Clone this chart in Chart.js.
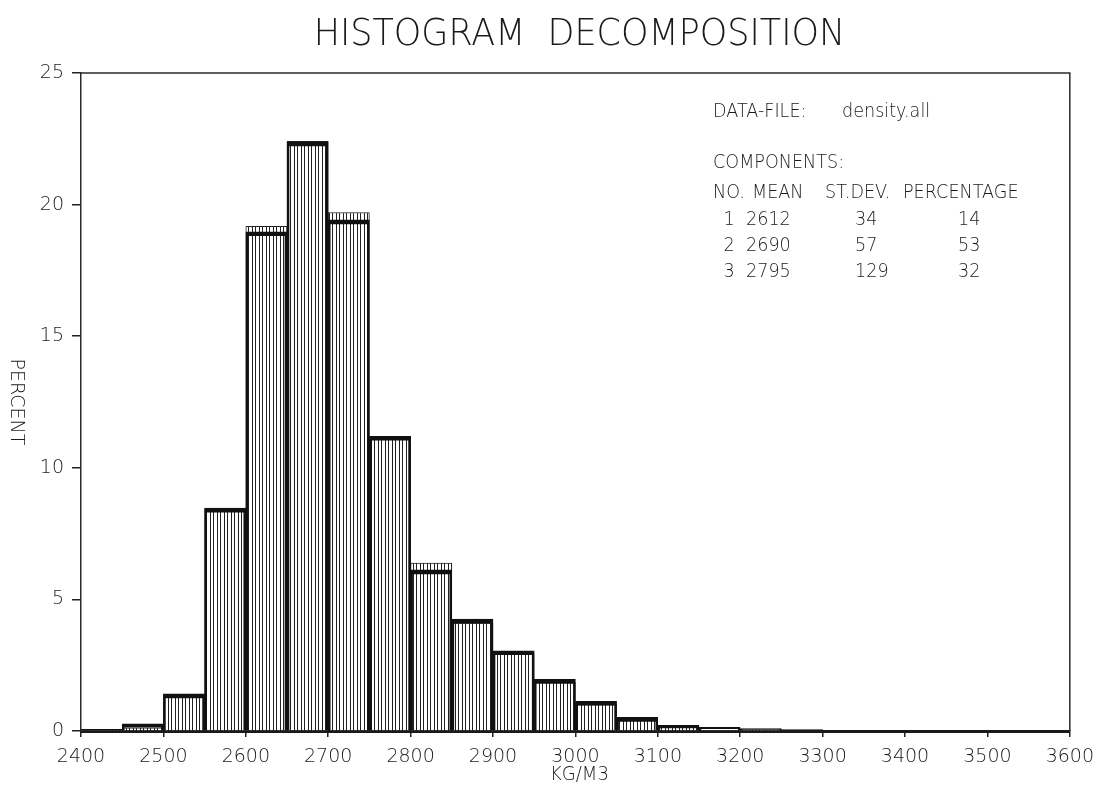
<!DOCTYPE html>
<html>
<head>
<meta charset="utf-8">
<script src="https://cdn.jsdelivr.net/npm/chart.js@4.4.1/dist/chart.umd.min.js"></script>
<style>
html,body{margin:0;padding:0;background:#fff;}
#wrap{width:1103px;height:788px;position:relative;}
canvas{display:block;}
</style>
</head>
<body>
<div id="wrap"><canvas id="c" width="1103" height="788"></canvas></div>
<script>
// ---------- data ----------
const titleText = 'HISTOGRAM  DECOMPOSITION';
const xAxisTitle = 'KG/M3';
const yAxisTitle = 'PERCENT';
const binCenters = [2425, 2475, 2525, 2575, 2625, 2675, 2725, 2775, 2825, 2875, 2925, 2975,
                    3025, 3075, 3125, 3175, 3225, 3275, 3325, 3375, 3425, 3475, 3525, 3575];
const observedPct = [0.05, 0.12, 1.38, 8.45, 19.17, 22.4, 19.7, 11.2, 6.38, 4.1, 2.95, 1.85,
                     1.0, 0.45, 0.13, 0.03, 0.02, 0, 0, 0, 0, 0, 0, 0];
const fittedPct   = [0.06, 0.27, 1.41, 8.47, 18.97, 22.38, 19.42, 11.2, 6.12, 4.25, 3.05, 1.96,
                     1.13, 0.52, 0.22, 0.14, 0.09, 0.05, 0.02, 0.01, 0, 0, 0, 0];
const xTickLabels = ['2400','2500','2600','2700','2800','2900','3000','3100','3200','3300','3400','3500','3600'];
const yTickLabels = ['0','5','10','15','20','25'];
const dataFileLabel = 'DATA-FILE:';
const dataFileName = 'density.all';
const componentsHeader = 'COMPONENTS:';
const tableHeader = ['NO.', 'MEAN', 'ST.DEV.', 'PERCENTAGE'];
const compNo = ['1', '2', '3'];
const compMean = ['2612', '2690', '2795'];
const compStdDev = ['34', '57', '129'];
const compPercentage = ['14', '53', '32'];

// ---------- styling ----------
const FAMILY = '"DejaVu Sans", "Liberation Sans", sans-serif';
const INK = '#1a1a1a';
const font = (size) => `200 ${size}px ${FAMILY}`;

const canvas = document.getElementById('c');
const ctx = canvas.getContext('2d');

function makeHatch() {
  const p = document.createElement('canvas');
  p.width = 7; p.height = 8;
  const g = p.getContext('2d');
  g.fillStyle = '#ffffff';
  g.fillRect(0, 0, 7, 8);
  g.fillStyle = '#222222';
  g.fillRect(0, 0, 1, 8);
  g.fillRect(3, 0, 1, 8);
  return ctx.createPattern(p, 'repeat');
}
const hatch = makeHatch();

const toXY = (vals) => vals.map((v, i) => ({x: binCenters[i], y: v}));

// narrow text helper (reference uses a condensed stroke font)
function narrowText(c, text, x, y, sx, align) {
  c.save();
  c.translate(x, y);
  c.scale(sx, 1);
  c.textAlign = align || 'left';
  c.fillText(text, 0, 0);
  c.restore();
}

const textPlugin = {
  id: 'texts',
  afterDatasetsDraw(chart) {
    const c = chart.ctx;
    const ca = chart.chartArea;
    c.save();
    c.strokeStyle = '#2a2a2a';
    c.lineWidth = 1.5;
    c.beginPath();
    c.moveTo(ca.left, ca.top);
    c.lineTo(ca.right, ca.top);
    c.lineTo(ca.right, ca.bottom);
    c.stroke();
    c.restore();
  },
  afterDraw(chart) {
    const c = chart.ctx;
    const ca = chart.chartArea;
    const cx = (ca.left + ca.right) / 2;
    c.save();
    c.fillStyle = INK;
    c.textBaseline = 'middle';
    // title
    c.font = font(38);
    narrowText(c, titleText, cx + 4, 35, 0.92, 'center');
    // x axis title
    c.font = font(19);
    narrowText(c, xAxisTitle, cx + 4, 775, 0.95, 'center');
    // y axis title, reading top to bottom
    c.save();
    c.translate(16, (ca.top + ca.bottom) / 2);
    c.rotate(Math.PI / 2);
    c.font = font(19);
    c.textAlign = 'center';
    c.fillText(yAxisTitle, 0, 0);
    c.restore();
    // annotation block
    c.font = font(20);
    const sx = 0.88;
    narrowText(c, dataFileLabel, 713, 112, sx);
    narrowText(c, dataFileName, 842, 112, sx);
    narrowText(c, componentsHeader, 713, 163, sx);
    const colX = [713, 752, 825, 903];
    tableHeader.forEach((t, i) => narrowText(c, t, colX[i], 193, sx));
    const rowY = [220, 246, 272];
    for (let r = 0; r < compNo.length; r++) {
      narrowText(c, compNo[r], 729, rowY[r], sx, 'center');
      narrowText(c, compMean[r], 746, rowY[r], sx);
      narrowText(c, compStdDev[r], 855, rowY[r], sx);
      narrowText(c, compPercentage[r], 958, rowY[r], sx);
    }
    c.restore();
  }
};

new Chart(canvas, {
  type: 'bar',
  data: {
    datasets: [
      {
        label: 'fitted',
        data: toXY(fittedPct),
        backgroundColor: 'rgba(0,0,0,0)',
        borderColor: '#111',
        borderWidth: {top: 4, left: 2, right: 2, bottom: 0},
        borderSkipped: 'start',
        grouped: false,
        barPercentage: 1,
        categoryPercentage: 1,
        order: 0
      },
      {
        label: 'observed',
        data: toXY(observedPct),
        backgroundColor: hatch,
        borderColor: '#222',
        borderWidth: {top: 1, left: 1, right: 1, bottom: 0},
        borderSkipped: 'start',
        grouped: false,
        barPercentage: 1,
        categoryPercentage: 1,
        order: 1
      }
    ]
  },
  options: {
    responsive: false,
    animation: false,
    events: [],
    layout: {padding: {left: 0, right: 32, top: 73, bottom: 0}},
    plugins: {legend: {display: false}, tooltip: {enabled: false}, title: {display: false}},
    scales: {
      x: {
        type: 'linear',
        min: 2400,
        max: 3600,
        offset: false,
        grid: {display: true, drawOnChartArea: false, offset: false, tickLength: 6, color: '#222', lineWidth: 1.5},
        border: {display: true, color: '#1a1a1a', width: 3},
        ticks: {
          stepSize: 100, autoSkip: false, maxRotation: 0, padding: 9,
          color: INK, font: {family: FAMILY, size: 19, weight: '200'},
          callback: (v, i) => xTickLabels[i]
        },
        afterFit: (s) => { s.height = 57; }
      },
      y: {
        min: 0,
        max: 25,
        grid: {display: true, drawOnChartArea: false, tickLength: 9, color: '#222', lineWidth: 1.5},
        border: {display: true, color: '#2a2a2a', width: 1.5},
        ticks: {
          stepSize: 5, padding: 8,
          color: INK, font: {family: FAMILY, size: 19, weight: '200'},
          callback: (v, i) => yTickLabels[i]
        },
        afterFit: (s) => { s.width = 81; }
      }
    }
  },
  plugins: [textPlugin]
});
</script>
</body>
</html>
